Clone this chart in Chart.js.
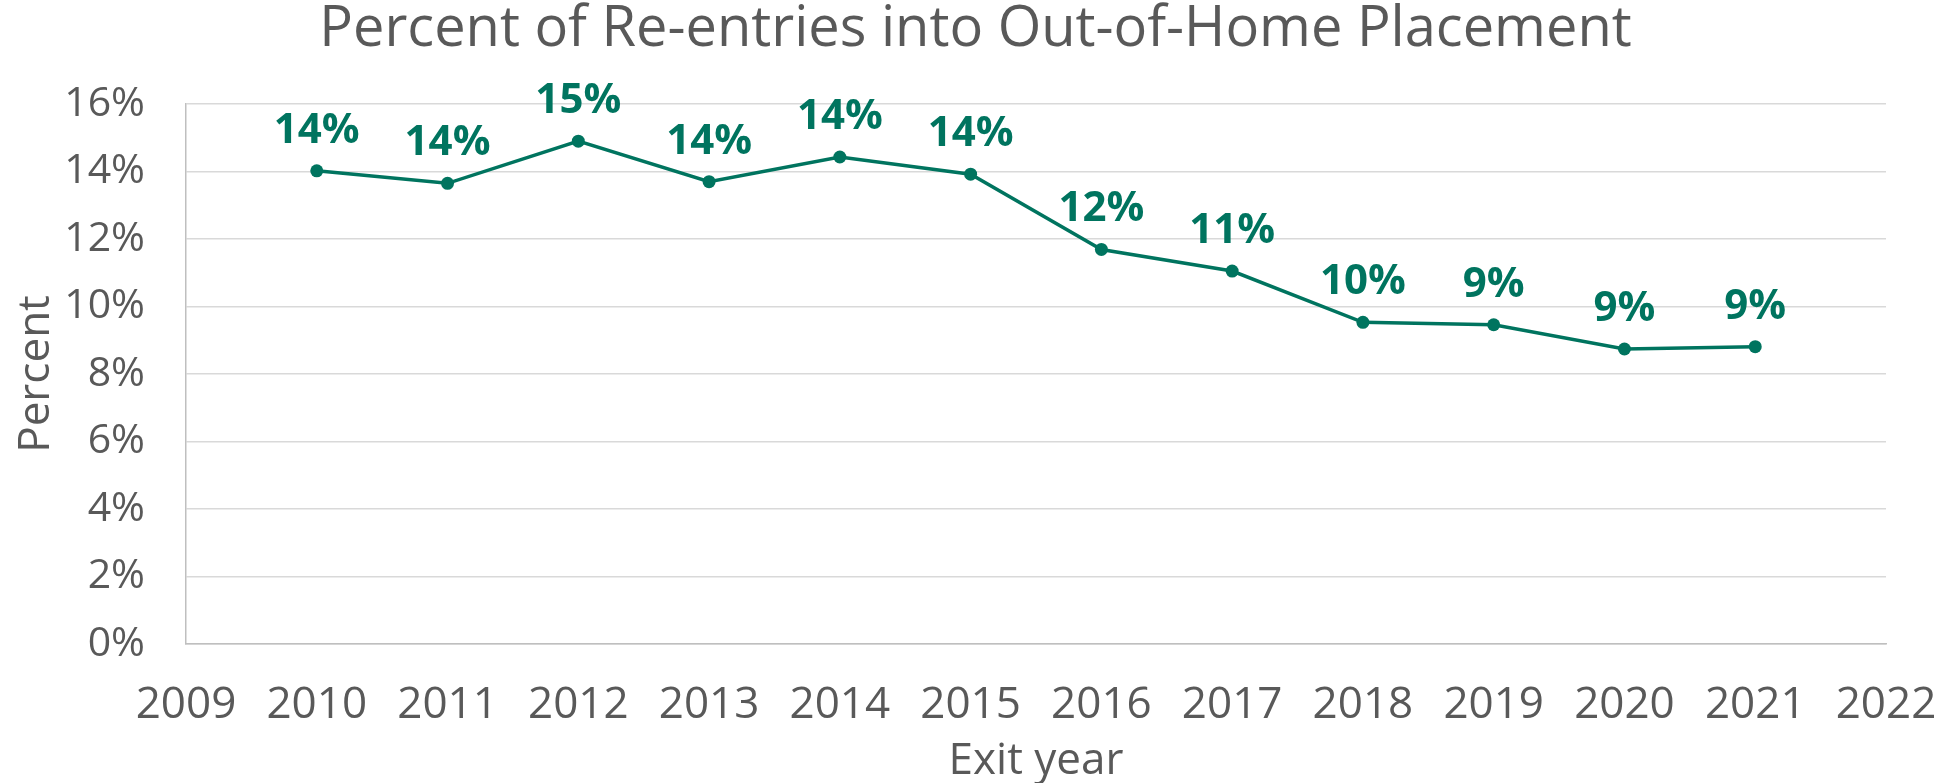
<!DOCTYPE html>
<html>
<head>
<meta charset="utf-8">
<script src="https://cdn.jsdelivr.net/npm/chart.js@4.4.0/dist/chart.umd.min.js"></script>
<style>
  html, body { margin: 0; padding: 0; background: #fff; }
  #wrap { width: 1951px; height: 783px; position: relative; }
</style>
</head>
<body>
<div id="wrap"><canvas id="reentry-chart"></canvas></div>
<script>
// Exit years and percent of re-entries
var years = [2010, 2011, 2012, 2013, 2014, 2015, 2016, 2017, 2018, 2019, 2020, 2021];
var reentryPct = [14.02, 13.65, 14.9, 13.7, 14.43, 13.92, 11.69, 11.05, 9.53, 9.46, 8.74, 8.81];
var yearRange = [2009, 2022];
var pctRange = [0, 16];

var green = '#00745F';
var grey = '#595959';
var fontName = '"Open Sans", sans-serif';

var points = years.map(function(y, i) {
  return { x: y, y: reentryPct[i] };
});

// draw the rounded value above each point
var valueLabels = {
  id: 'valueLabels',
  afterDatasetsDraw: function(chart) {
    var ctx = chart.ctx;
    var meta = chart.getDatasetMeta(0);
    ctx.save();
    ctx.font = 'bold 42px ' + fontName;
    ctx.fillStyle = green;
    ctx.textAlign = 'center';
    ctx.textBaseline = 'alphabetic';
    meta.data.forEach(function(pt, i) {
      ctx.fillText(Math.round(reentryPct[i]) + '%', pt.x, pt.y - 28);
    });
    ctx.restore();
  }
};

var ctx = document.getElementById('reentry-chart').getContext('2d');
var chart = new Chart(ctx, {
  type: 'line',
  data: {
    datasets: [{
      label: 'Percent',
      data: points,
      borderColor: green,
      backgroundColor: green,
      borderWidth: 3.5,
      pointRadius: 6.5,
      pointBorderWidth: 0,
      pointBackgroundColor: green,
      tension: 0
    }]
  },
  options: {
    responsive: true,
    maintainAspectRatio: false,
    animation: false,
    layout: { padding: 0 },
    plugins: {
      legend: { display: false },
      tooltip: { enabled: false },
      title: {
        display: true,
        text: 'Percent of Re-entries into Out-of-Home Placement',
        color: grey,
        font: { family: fontName, size: 56, weight: 'normal', lineHeight: 1 },
        padding: { top: 2, bottom: 46 }
      }
    },
    scales: {
      x: {
        type: 'linear',
        min: yearRange[0],
        max: yearRange[1],
        grid: { display: false },
        border: { display: true, color: '#bfbfbf', width: 1.5 },
        ticks: {
          stepSize: 1,
          padding: 31,
          color: grey,
          font: { family: fontName, size: 44, lineHeight: 1 },
          callback: function(v) { return String(v); }
        },
        title: {
          display: true,
          text: 'Exit year',
          color: grey,
          font: { family: fontName, size: 44, lineHeight: 1 },
          padding: { top: 0, bottom: 0 }
        },
        afterFit: function(scale) {
          scale.height = 139;
          scale.paddingLeft = 0;
          scale.paddingRight = 65;
        }
      },
      y: {
        min: pctRange[0],
        max: pctRange[1],
        grid: { color: '#d9d9d9', lineWidth: 1.5, drawTicks: false },
        border: { display: true, color: '#bfbfbf', width: 1.5 },
        ticks: {
          stepSize: 2,
          padding: 41,
          color: grey,
          font: { family: fontName, size: 41, lineHeight: 1 },
          callback: function(v) { return v + '%'; }
        },
        title: {
          display: true,
          text: 'Percent',
          color: grey,
          font: { family: fontName, size: 44, lineHeight: 1 },
          padding: { top: 14, bottom: 0 }
        },
        afterFit: function(scale) {
          scale.width = 186;
          scale.paddingTop = 0;
          scale.paddingBottom = 0;
        }
      }
    }
  },
  plugins: [valueLabels]
});
</script>
</body>
</html>
